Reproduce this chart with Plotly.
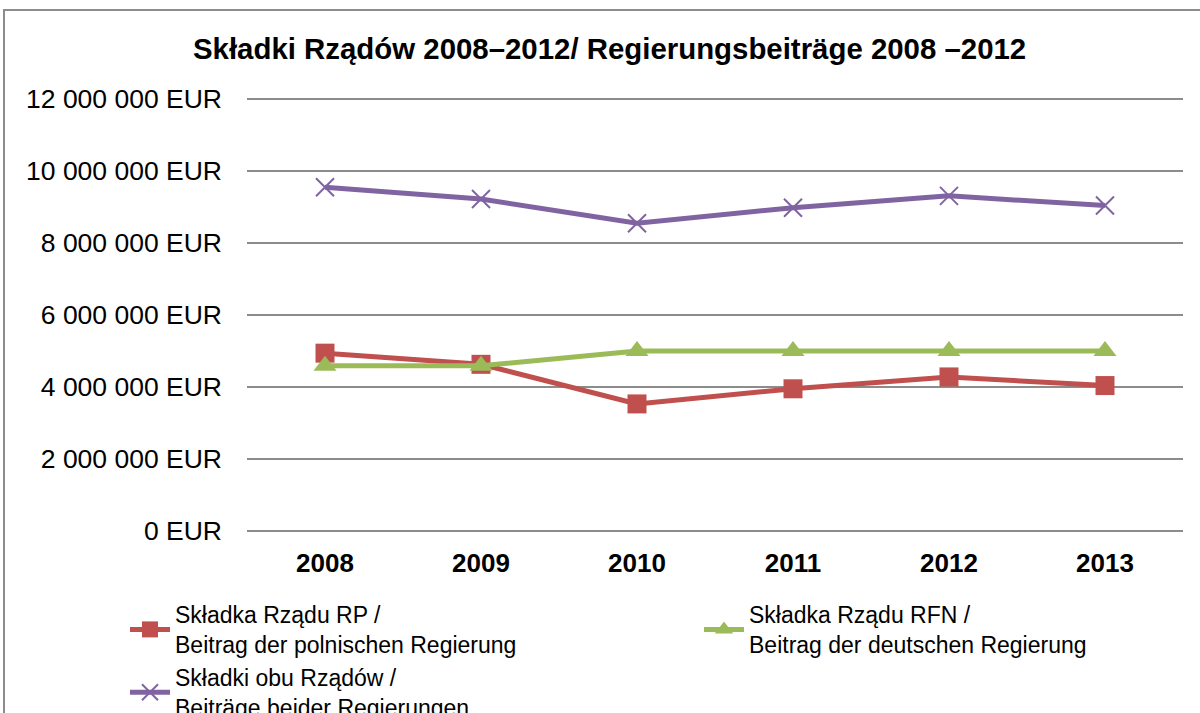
import plotly.graph_objects as go

years = ["2008", "2009", "2010", "2011", "2012", "2013"]
pl_gov = [4940000, 4630000, 3530000, 3950000, 4280000, 4040000]
de_gov = [4590000, 4590000, 5000000, 5000000, 5000000, 5000000]
both_gov = [9550000, 9220000, 8550000, 8980000, 9310000, 9040000]

tick_vals = [0, 2000000, 4000000, 6000000, 8000000, 10000000, 12000000]
tick_text = ["0 EUR", "2 000 000 EUR", "4 000 000 EUR", "6 000 000 EUR",
             "8 000 000 EUR", "10 000 000 EUR", "12 000 000 EUR"]

names = [
    "Składka Rządu RP /<br>Beitrag der polnischen Regierung",
    "Składka Rządu RFN /<br>Beitrag der deutschen Regierung",
    "Składki obu Rządów /<br>Beiträge beider Regierungen",
]

RED = "#C0504D"
GREEN = "#9BBB59"
PURPLE = "#8064A2"
FONT = "Liberation Sans, Arial, sans-serif"

fig = go.Figure()
fig.add_trace(go.Scatter(
    x=years, y=pl_gov, name=names[0], mode="lines+markers",
    line=dict(color=RED, width=5),
    marker=dict(symbol="square", size=19, color=RED),
    legend="legend",
))
fig.add_trace(go.Scatter(
    x=years, y=de_gov, name=names[1], mode="lines+markers",
    line=dict(color=GREEN, width=5),
    marker=dict(symbol="triangle-up", size=20, color=GREEN),
    legend="legend2",
))
fig.add_trace(go.Scatter(
    x=years, y=both_gov, name=names[2], mode="lines+markers",
    line=dict(color=PURPLE, width=5),
    marker=dict(symbol="x-thin", size=18, color=PURPLE,
                line=dict(color=PURPLE, width=2)),
    legend="legend",
))

# value axis 0..12M occupies y=99..531; a small pad keeps the edge gridlines visible
W, H = 1200, 713
PAD_PX = 4
L, T = 247, 99 - PAD_PX
R, B = W - 1183, H - 531 - PAD_PX
pw, ph = W - L - R, H - T - B
per_px = 12000000 / (531 - 99)
pad_val = PAD_PX * per_px

def px_x(v):
    return (v - L) / pw

def px_y(v):
    return (H - B - v) / ph

fig.update_layout(
    width=W, height=H,
    margin=dict(l=L, r=R, t=T, b=B, autoexpand=False),
    paper_bgcolor="white", plot_bgcolor="white",
    font=dict(family=FONT, color="black"),
    title=dict(text="<b>Składki Rządów 2008–2012/ Regierungsbeiträge 2008 –2012</b>",
               x=0.508, xanchor="center", xref="container",
               y=1 - 48.5 / H, yanchor="middle", yref="container",
               font=dict(size=29.4, family=FONT, color="black")),
    xaxis=dict(
        type="category", range=[-0.5, 5.5],
        showgrid=False, zeroline=False, showline=False,
        tickvals=years, ticktext=["<b>%s</b>" % y for y in years],
        ticks="", tickfont=dict(size=26, family=FONT, color="black"),
        ticklabelstandoff=14 - PAD_PX,
    ),
    yaxis=dict(
        range=[-pad_val, 12000000 + pad_val], tickvals=tick_vals, ticktext=tick_text,
        showgrid=True, gridcolor="#8C8C8C", gridwidth=1.5,
        zeroline=False, showline=False, ticks="",
        tickfont=dict(size=26.5, family=FONT, color="black"),
        ticklabelstandoff=24,
    ),
    showlegend=True,
    legend=dict(
        orientation="v", x=px_x(125), y=px_y(593),
        xanchor="left", yanchor="top",
        font=dict(size=23, family=FONT, color="black"),
        itemwidth=40, tracegroupgap=0, bgcolor="rgba(0,0,0,0)",
    ),
    legend2=dict(
        orientation="v", x=px_x(699), y=px_y(593),
        xanchor="left", yanchor="top",
        font=dict(size=23, family=FONT, color="black"),
        itemwidth=40, bgcolor="rgba(0,0,0,0)",
    ),
    shapes=[dict(
        type="rect", xref="paper", yref="paper",
        x0=px_x(4), x1=px_x(1215),
        y0=px_y(740), y1=px_y(10),
        line=dict(color="#8C8C8C", width=2), fillcolor="rgba(0,0,0,0)",
        layer="below",
    )],
)

fig.write_html("out.html", config={"displayModeBar": False},
               post_script="document.body.style.margin='0';")
